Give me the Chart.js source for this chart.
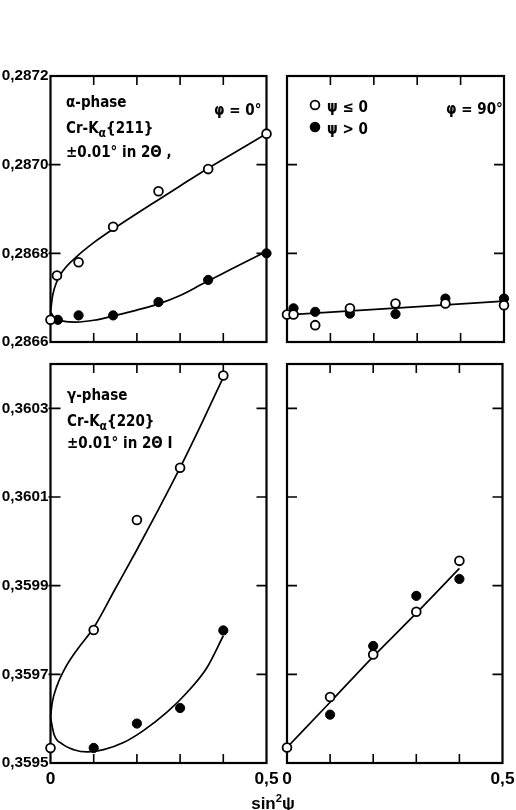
<!DOCTYPE html>
<html><head><meta charset="utf-8">
<script src="https://cdn.jsdelivr.net/npm/chart.js@4.4.0/dist/chart.umd.min.js"></script>
<style>
html,body{margin:0;padding:0;background:#fff;}
#wrap{position:relative;width:516px;height:810px;overflow:hidden;background:#fff;}
canvas{position:absolute;left:0;top:0;}
</style></head><body>
<div id="wrap">
<canvas id="c1" width="516" height="810"></canvas>
<canvas id="c2" width="516" height="810"></canvas>
<canvas id="c3" width="516" height="810"></canvas>
<canvas id="c4" width="516" height="810"></canvas>
</div>
<script>
// ---------- tick values ----------
const xMinorTicks = [0.1, 0.2, 0.3, 0.4];
const xLabelValues = [0, 0.5];
const yTicksAlpha = [0.2866, 0.2868, 0.2870, 0.2872];
const yTicksGamma = [0.3595, 0.3597, 0.3599, 0.3601, 0.3603];

// ---------- alpha phase, phi = 0 ----------
const alpha0OpenX   = [0, 0.015, 0.065, 0.145, 0.25, 0.365, 0.5];
const alpha0Open    = [0.28665, 0.28675, 0.28678, 0.28686, 0.28694, 0.28699, 0.28707];
const alpha0FilledX = [0.017, 0.065, 0.145, 0.25, 0.365, 0.5];
const alpha0Filled  = [0.28665, 0.28666, 0.28666, 0.28669, 0.28674, 0.28680];
const alpha0UpperX  = [0, 0.005, 0.015, 0.03, 0.06, 0.1, 0.15, 0.2, 0.25, 0.3, 0.35, 0.4, 0.45, 0.5];
const alpha0UpperY  = [0.286668, 0.286705, 0.286737, 0.286762, 0.286792, 0.286824, 0.286858, 0.28689, 0.286921, 0.286952, 0.286983, 0.287012, 0.287041, 0.28707];
const alpha0LowerX  = [0, 0.01, 0.03, 0.06, 0.1, 0.15, 0.2, 0.25, 0.3, 0.35, 0.4, 0.45, 0.5];
const alpha0LowerY  = [0.286668, 0.286653, 0.286647, 0.286645, 0.286649, 0.28666, 0.286672, 0.286686, 0.286705, 0.28673, 0.286755, 0.28678, 0.286804];

// ---------- alpha phase, phi = 90 ----------
const alpha90OpenX   = [0, 0.015, 0.065, 0.145, 0.25, 0.365, 0.5];
const alpha90Open    = [0.286662, 0.286662, 0.286638, 0.286676, 0.286687, 0.286687, 0.286683];
const alpha90FilledX = [0.015, 0.065, 0.145, 0.25, 0.365, 0.5];
const alpha90Filled  = [0.286676, 0.286668, 0.286664, 0.286663, 0.286698, 0.286698];
const alpha90LineX   = [0, 0.5];
const alpha90LineY   = [0.286661, 0.286692];

// ---------- gamma phase, phi = 0 ----------
const gamma0OpenX   = [0, 0.1, 0.2, 0.3, 0.4];
const gamma0Open    = [0.359534, 0.3598, 0.360048, 0.360166, 0.360374];
const gamma0FilledX = [0.1, 0.2, 0.3, 0.4];
const gamma0Filled  = [0.359534, 0.359589, 0.359624, 0.359799];
const gamma0UpperX  = [0, 0.004, 0.015, 0.035, 0.065, 0.1, 0.15, 0.2, 0.25, 0.3, 0.35, 0.4];
const gamma0UpperY  = [0.359603, 0.359636, 0.359674, 0.359716, 0.35976, 0.359805, 0.359893, 0.359981, 0.360072, 0.360166, 0.360266, 0.36037];
const gamma0LowerX  = [0, 0.008, 0.027, 0.054, 0.085, 0.123, 0.169, 0.215, 0.269, 0.316, 0.362, 0.4];
const gamma0LowerY  = [0.359603, 0.359565, 0.359543, 0.35953, 0.359525, 0.35953, 0.359546, 0.359573, 0.359614, 0.359659, 0.359715, 0.359787];

// ---------- gamma phase, phi = 90 ----------
const gamma90OpenX   = [0, 0.1, 0.2, 0.3, 0.4];
const gamma90Open    = [0.359535, 0.359649, 0.359745, 0.359841, 0.359956];
const gamma90FilledX = [0.1, 0.2, 0.3, 0.4];
const gamma90Filled  = [0.359609, 0.359764, 0.359877, 0.359915];
const gamma90LineX   = [0, 0.1, 0.2, 0.3, 0.4];
const gamma90LineY   = [0.359535, 0.359637, 0.35974, 0.359838, 0.359939];

// ---------- fonts ----------
function fontAvailable(name) {
  const c = document.createElement('canvas').getContext('2d');
  const test = '0,2872 abcMWi';
  let res = false;
  ['monospace', 'serif'].forEach(gen => {
    c.font = 'bold 20px ' + gen; const w1 = c.measureText(test).width;
    c.font = "bold 20px '" + name + "', " + gen; const w2 = c.measureText(test).width;
    if (Math.abs(w1 - w2) > 0.01) res = true;
  });
  return res;
}
const TICK_FONT = (fontAvailable('Liberation Sans Narrow') ? "'Liberation Sans Narrow', " : '') + "'Liberation Sans', Arial, sans-serif";
const TEXT_FONT = "'DejaVu Sans Condensed', 'Liberation Sans', sans-serif";
const TICK_SIZE = (function () {
  const c = document.createElement('canvas').getContext('2d');
  c.font = 'bold 17px ' + TICK_FONT;
  const w = c.measureText('0,2872').width;
  return Math.min(17, Math.floor(17 * 47 / w * 10) / 10);
})();

function fmtY(v){ return Number(v).toFixed(4).replace('.', ','); }
function fmtX(v){ return v === 0 ? '0' : Number(v).toFixed(1).replace('.', ','); }
function pts(xs, ys){ return xs.map((x, i) => ({x: x, y: ys[i]})); }

function drawRich(ctx, t) {
  const size = t.size || 15, fam = t.family || TEXT_FONT, wt = t.weight || 'bold';
  const pieces = t.parts.map(p => {
    const s = p[1] === 'sub' ? size * 0.8 : p[1] === 'sup' ? size * 0.66 : size;
    ctx.font = wt + ' ' + s + 'px ' + fam;
    return {txt: p[0], s: s, w: ctx.measureText(p[0]).width, dy: p[1] === 'sub' ? size * 0.28 : p[1] === 'sup' ? -size * 0.42 : 0};
  });
  const total = pieces.reduce((a, p) => a + p.w, 0);
  let x = t.align === 'center' ? t.x - total / 2 : t.x;
  ctx.fillStyle = '#000';
  ctx.textBaseline = 'alphabetic';
  ctx.textAlign = 'left';
  pieces.forEach(p => {
    ctx.font = wt + ' ' + p.s + 'px ' + fam;
    ctx.fillText(p.txt, x, t.y + p.dy);
    x += p.w;
  });
}

function framePlugin(p) {
  return {
    id: 'frame_' + p.id,
    beforeDatasetsDraw(chart) {
      const ctx = chart.ctx, a = chart.chartArea, xs = chart.scales.x, ys = chart.scales.y;
      ctx.save();
      ctx.strokeStyle = '#000';
      ctx.lineWidth = 2.2;
      ctx.strokeRect(a.left, a.top, a.right - a.left, a.bottom - a.top);
      ctx.lineWidth = 1.6;
      ctx.beginPath();
      xMinorTicks.forEach(v => {
        const px = xs.getPixelForValue(v);
        ctx.moveTo(px, a.bottom); ctx.lineTo(px, a.bottom - 9);
        ctx.moveTo(px, a.top); ctx.lineTo(px, a.top + 9);
      });
      p.yTicks.forEach(v => {
        const py = ys.getPixelForValue(v);
        if (py <= a.top + 1 || py >= a.bottom - 1) return;
        ctx.moveTo(a.left - (p.yLabels ? 2 : 0), py); ctx.lineTo(a.left + 10, py);
        ctx.moveTo(a.right, py); ctx.lineTo(a.right - 10, py);
      });
      ctx.stroke();
      ctx.restore();
    },
    afterDraw(chart) {
      const ctx = chart.ctx;
      ctx.save();
      (p.markers || []).forEach(m => {
        ctx.beginPath();
        ctx.arc(m.x, m.y, 4.4, 0, Math.PI * 2);
        ctx.fillStyle = m.filled ? '#000' : '#fff';
        ctx.fill();
        ctx.lineWidth = 1.8; ctx.strokeStyle = '#000';
        ctx.stroke();
      });
      (p.texts || []).forEach(t => drawRich(ctx, t));
      ctx.restore();
    }
  };
}

function makeChart(id, p) {
  const a = p.area, yW = p.yLabels ? 50 : 10, xH = 34;
  const curveSets = p.curves.map(c => ({
    data: pts(c[0], c[1]), showLine: true, pointRadius: 0, borderColor: '#000', borderWidth: 1.7,
    cubicInterpolationMode: 'monotone', clip: false, order: 2, fill: false
  }));
  return new Chart(document.getElementById(id), {
    type: 'scatter',
    data: {
      datasets: curveSets.concat([
        {data: pts(p.filled[0], p.filled[1]), pointRadius: 4.6, pointBackgroundColor: '#000', pointBorderColor: '#000',
         pointBorderWidth: 1, order: 1, clip: false, showLine: false},
        {data: pts(p.open[0], p.open[1]), pointRadius: 4.4, pointBackgroundColor: '#fff', pointBorderColor: '#000',
         pointBorderWidth: 1.8, order: 0, clip: false, showLine: false}
      ])
    },
    options: {
      responsive: false, animation: false, devicePixelRatio: 1, events: [],
      layout: {padding: {left: a.l - yW, top: a.t, right: 516 - a.r, bottom: 810 - a.b - xH}},
      plugins: {legend: {display: false}, tooltip: {enabled: false}, title: {display: false}},
      scales: {
        x: {
          type: 'linear', min: 0, max: 0.5, position: 'bottom',
          grid: {display: false, drawTicks: false}, border: {display: false},
          ticks: {display: p.xLabels, padding: 6, color: '#000', maxRotation: 0, autoSkip: false,
                  font: {family: TICK_FONT, size: TICK_SIZE + 2, weight: 'bold'}, callback: v => fmtX(v)},
          afterBuildTicks: s => { s.ticks = xLabelValues.map(v => ({value: v})); },
          afterFit: s => { s.height = xH; s.paddingLeft = 0; s.paddingRight = 0; s.paddingTop = 0; s.paddingBottom = 0; }
        },
        y: {
          type: 'linear', min: p.yMin, max: p.yMax, position: 'left',
          grid: {display: false, drawTicks: false}, border: {display: false},
          ticks: {display: p.yLabels, padding: 2, color: '#000', autoSkip: false,
                  font: {family: TICK_FONT, size: TICK_SIZE, weight: 'bold'}, callback: v => fmtY(v)},
          afterBuildTicks: s => { s.ticks = p.yTicks.map(v => ({value: v})); },
          afterFit: s => { s.width = yW; s.paddingLeft = 0; s.paddingRight = 0; s.paddingTop = 0; s.paddingBottom = 0; }
        }
      }
    },
    plugins: [framePlugin(p)]
  });
}

// ---------- panels ----------
makeChart('c1', {
  id: 'a0', area: {l: 50.5, t: 76, r: 266.5, b: 342}, yMin: 0.2866, yMax: 0.2872, yTicks: yTicksAlpha,
  xLabels: false, yLabels: true,
  open: [alpha0OpenX, alpha0Open], filled: [alpha0FilledX, alpha0Filled],
  curves: [[alpha0UpperX, alpha0UpperY], [alpha0LowerX, alpha0LowerY]],
  texts: [
    {parts: [['α-phase']], x: 66, y: 107},
    {parts: [['Cr-K'], ['α', 'sub'], ['{211}']], x: 66, y: 133},
    {parts: [['±0.01° in 2Θ ,']], x: 66, y: 157},
    {parts: [['φ = 0°']], x: 214, y: 115}
  ]
});

makeChart('c2', {
  id: 'a90', area: {l: 287, t: 76, r: 504, b: 342}, yMin: 0.2866, yMax: 0.2872, yTicks: yTicksAlpha,
  xLabels: false, yLabels: false,
  open: [alpha90OpenX, alpha90Open], filled: [alpha90FilledX, alpha90Filled],
  curves: [[alpha90LineX, alpha90LineY]],
  markers: [{x: 315, y: 105, filled: false}, {x: 315, y: 127, filled: true}],
  texts: [
    {parts: [['ψ ≤ 0']], x: 327, y: 112},
    {parts: [['ψ > 0']], x: 327, y: 134},
    {parts: [['φ = 90°']], x: 446, y: 114}
  ]
});

makeChart('c3', {
  id: 'g0', area: {l: 50.5, t: 364, r: 266.5, b: 763}, yMin: 0.3595, yMax: 0.3604, yTicks: yTicksGamma,
  xLabels: true, yLabels: true,
  open: [gamma0OpenX, gamma0Open], filled: [gamma0FilledX, gamma0Filled],
  curves: [[gamma0UpperX, gamma0UpperY], [gamma0LowerX, gamma0LowerY]],
  texts: [
    {parts: [['γ-phase']], x: 67, y: 400},
    {parts: [['Cr-K'], ['α', 'sub'], ['{220}']], x: 67, y: 426},
    {parts: [['±0.01° in 2Θ I']], x: 67, y: 448},
    {parts: [['sin'], ['2', 'sup'], ['ψ']], x: 273, y: 809, align: 'center', family: TICK_FONT, weight: 'bold', size: 17}
  ]
});

makeChart('c4', {
  id: 'g90', area: {l: 287, t: 364, r: 502.5, b: 763}, yMin: 0.3595, yMax: 0.3604, yTicks: yTicksGamma,
  xLabels: true, yLabels: false,
  open: [gamma90OpenX, gamma90Open], filled: [gamma90FilledX, gamma90Filled],
  curves: [[gamma90LineX, gamma90LineY]],
  texts: []
});
</script>
</body></html>
